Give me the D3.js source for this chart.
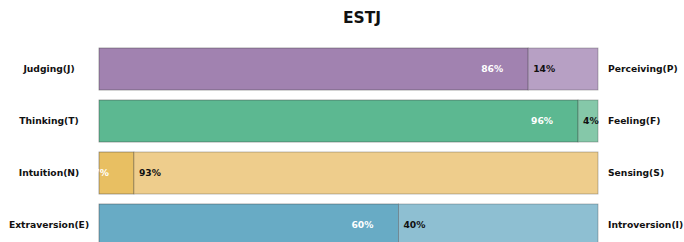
<!DOCTYPE html>
<html>
<head>
<meta charset="utf-8">
<script src="https://cdn.jsdelivr.net/npm/d3@7"></script>
<style>
  body { margin: 0; background: #fff; }
  text { font-family: "DejaVu Sans", sans-serif; font-weight: bold; }
</style>
</head>
<body>
<svg id="chart" width="684" height="242"></svg>
<script>
"use strict";
var title = "ESTJ";
var leftLabels = [ "Judging(J)", "Thinking(T)", "Intuition(N)", "Extraversion(E)" ];
var rightLabels = [ "Perceiving(P)", "Feeling(F)", "Sensing(S)", "Introversion(I)" ];
var leftPct = [ 86, 96, 7, 60 ];
var rightPct = [ 14, 4, 93, 40 ];
var leftColors = [ "#a182b0", "#5cb891", "#e8bf62", "#68abc5" ];
var rightColors = [ "#b7a0c4", "#85c8a9", "#eecd8c", "#8ebfd2" ];

var svg = d3.select( "#chart" );
var x = d3.scaleLinear().domain( [ 0, 100 ] ).range( [ 99, 598 ] );
var y = d3.scaleBand()
  .domain( d3.range( leftLabels.length ) )
  .range( [ 43, 251 ] )
  .paddingInner( 0.1923 )
  .paddingOuter( 0.0962 );

svg.append( "text" )
  .attr( "x", 362 )
  .attr( "y", 23 )
  .attr( "text-anchor", "middle" )
  .style( "font-size", "15.5px" )
  .attr( "fill", "#111" )
  .text( title );

var rows = svg.selectAll( "g.row" )
  .data( d3.range( leftLabels.length ) )
  .enter().append( "g" )
  .attr( "class", "row" );

// left segment
rows.append( "rect" )
  .attr( "x", x( 0 ) )
  .attr( "y", function( i ) { return y( i ); } )
  .attr( "width", function( i ) { return x( leftPct[i] ) - x( 0 ); } )
  .attr( "height", y.bandwidth() )
  .attr( "fill", function( i ) { return leftColors[i]; } )
  .attr( "stroke", "rgba(60,60,60,0.55)" )
  .attr( "stroke-width", 0.8 );

// right segment
rows.append( "rect" )
  .attr( "x", function( i ) { return x( leftPct[i] ); } )
  .attr( "y", function( i ) { return y( i ); } )
  .attr( "width", function( i ) { return x( leftPct[i] + rightPct[i] ) - x( leftPct[i] ); } )
  .attr( "height", y.bandwidth() )
  .attr( "fill", function( i ) { return rightColors[i]; } )
  .attr( "stroke", "rgba(60,60,60,0.4)" )
  .attr( "stroke-width", 0.8 );

// white percentage inside left segment
rows.append( "text" )
  .attr( "x", function( i ) { return x( leftPct[i] ) - 25; } )
  .attr( "y", function( i ) { return y( i ) + y.bandwidth() / 2; } )
  .attr( "dy", "0.35em" )
  .attr( "text-anchor", "end" )
  .style( "font-size", "9.2px" )
  .attr( "fill", "#fff" )
  .text( function( i ) { return leftPct[i] + "%"; } );

// black percentage in right segment
rows.append( "text" )
  .attr( "x", function( i ) { return x( leftPct[i] ) + 5; } )
  .attr( "y", function( i ) { return y( i ) + y.bandwidth() / 2; } )
  .attr( "dy", "0.35em" )
  .style( "font-size", "9.2px" )
  .attr( "fill", "#111" )
  .text( function( i ) { return rightPct[i] + "%"; } );

rows.append( "text" )
  .attr( "x", 49 )
  .attr( "y", function( i ) { return y( i ) + y.bandwidth() / 2; } )
  .attr( "dy", "0.35em" )
  .attr( "text-anchor", "middle" )
  .style( "font-size", "9.2px" )
  .attr( "fill", "#111" )
  .text( function( i ) { return leftLabels[i]; } );

rows.append( "text" )
  .attr( "x", 608 )
  .attr( "y", function( i ) { return y( i ) + y.bandwidth() / 2; } )
  .attr( "dy", "0.35em" )
  .style( "font-size", "9.2px" )
  .attr( "fill", "#111" )
  .text( function( i ) { return rightLabels[i]; } );
</script>
</body>
</html>
